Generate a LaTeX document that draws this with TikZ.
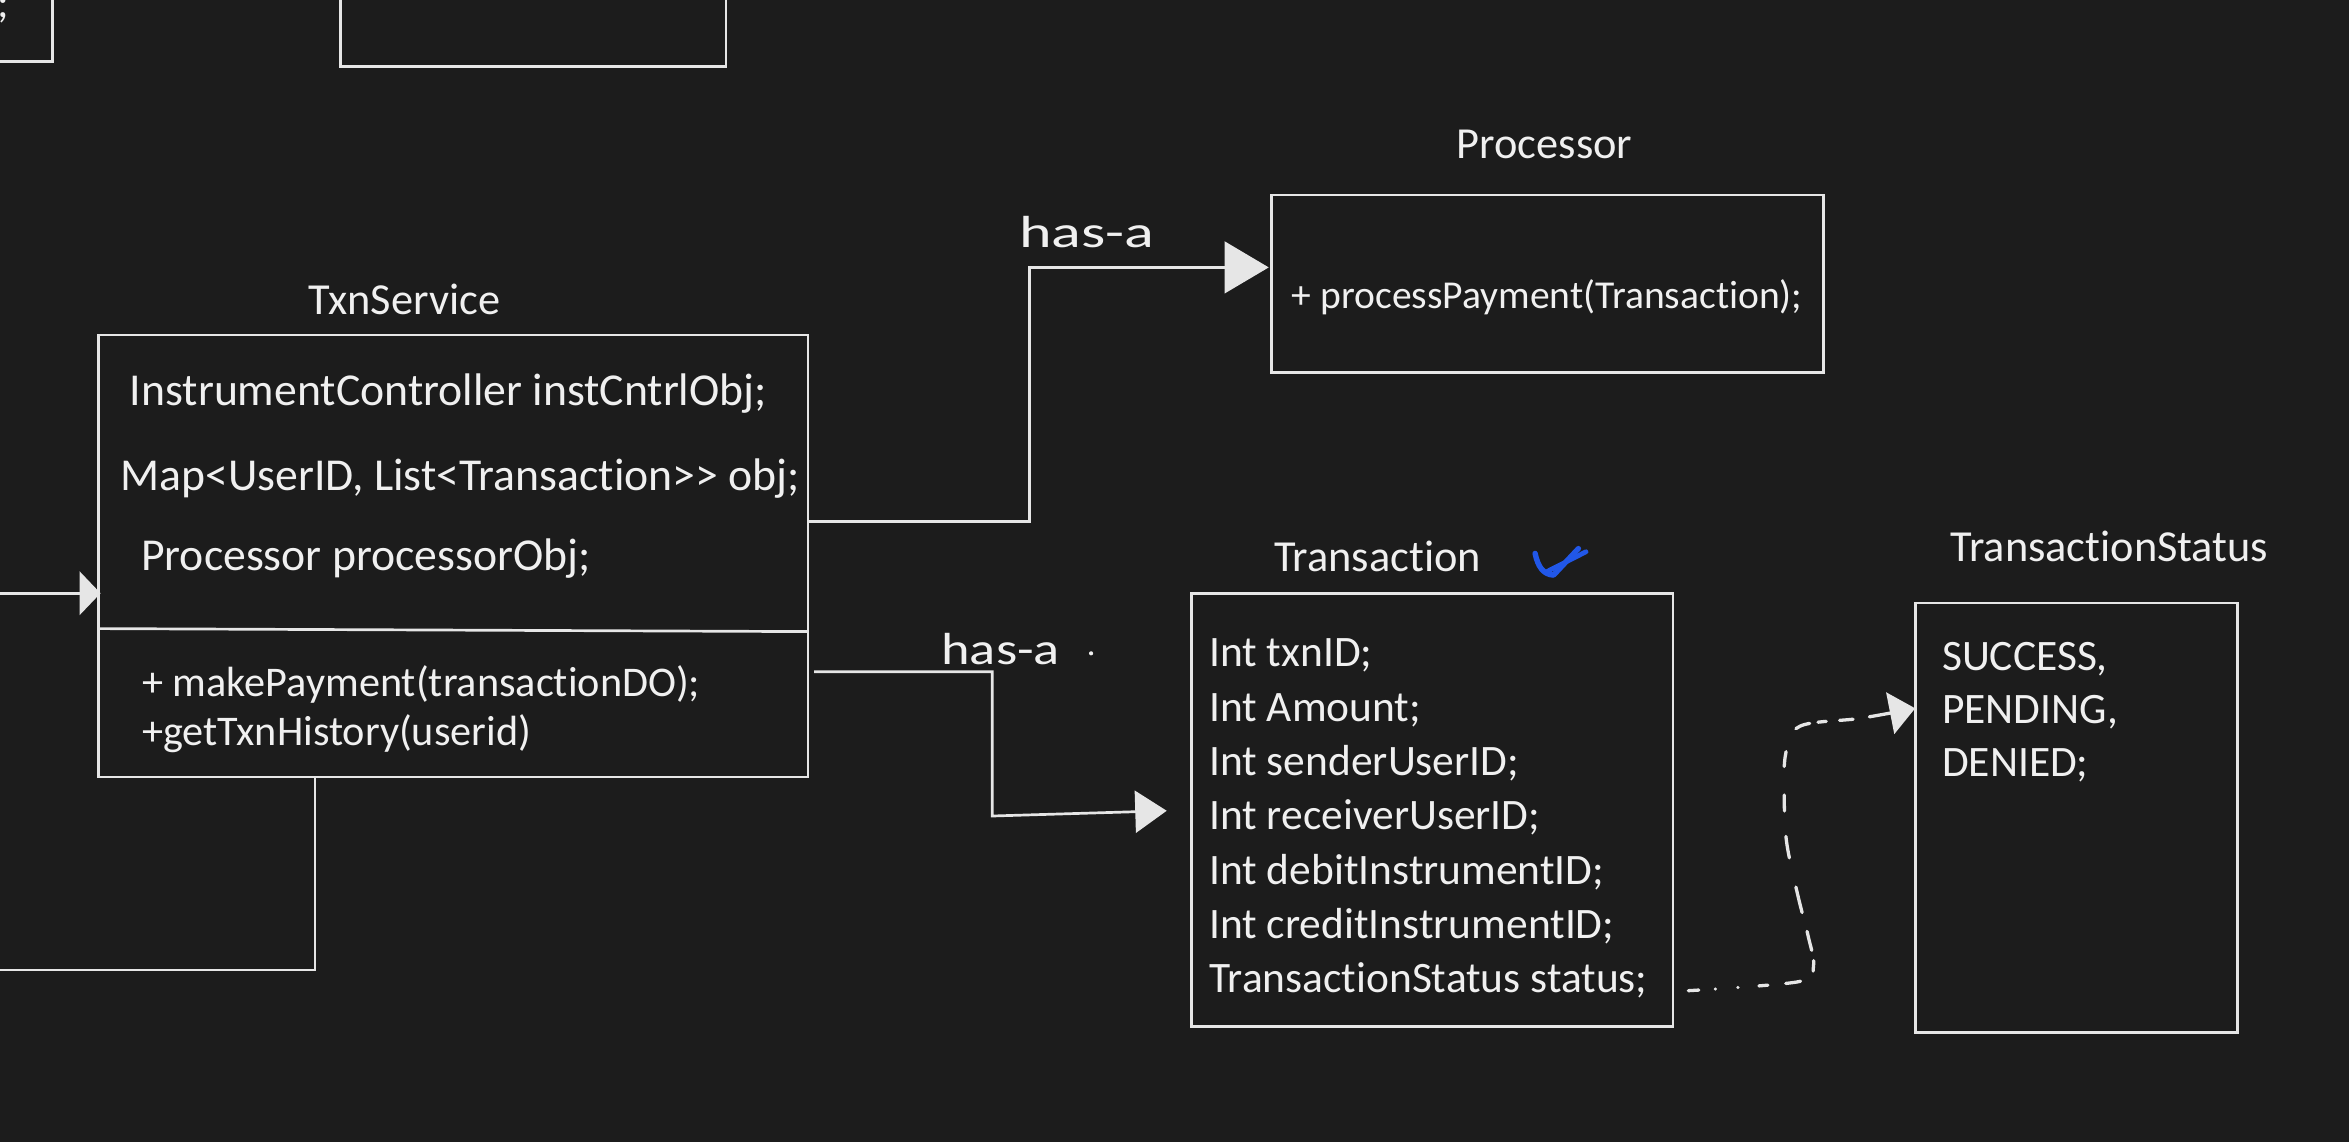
\documentclass[tikz,border=0pt]{standalone}
\usepackage{fontspec}
\setmainfont{Carlito}[Ligatures=NoCommon]
\usetikzlibrary{arrows.meta,calc}
\definecolor{bg}{HTML}{1C1C1C}
\definecolor{ink}{HTML}{E6E6E6}
\definecolor{txt}{HTML}{F0F0F0}
\definecolor{chk}{HTML}{2157E8}
\tikzset{
  umlbox/.style={draw=ink, line width=1.8pt, rectangle, inner sep=0pt, outer sep=0pt, anchor=north west},
  ttl/.style={text=txt, font=\fontsize{29.6}{36}\selectfont, inner sep=0pt, anchor=base},
  fld/.style={text=txt, font=\fontsize{30.5}{36}\selectfont, inner sep=0pt, anchor=base west},
  mth/.style={text=txt, font=\fontsize{28.2}{34}\selectfont, inner sep=0pt, anchor=base west},
  attr/.style={text=txt, font=\fontsize{29}{36}\selectfont, inner sep=0pt, anchor=base west},
  conn/.style={draw=ink, line width=1.8pt},
  hand/.style={text=txt, font=\fontsize{30}{30}\selectfont, inner sep=0pt, anchor=center},
}
\begin{document}
\begin{tikzpicture}[x=1pt,y=-1pt]
\fill[bg] (0,0) rectangle (1568,762);
\useasboundingbox (0,0) rectangle (1568,762);

% partial boxes at the top
\node[umlbox, minimum width=50pt, minimum height=55pt] (topA) at (-15,-14) {};
\node[attr, anchor=base east] (semi) at (6.5,11.5) {;};
\node[umlbox, minimum width=257.5pt, minimum height=60pt] (topB) at (227.2,-15.5) {};

% TxnService
\node[umlbox, minimum width=473.8pt, minimum height=295pt] (svc) at (65.6,223.6) {};
\node[ttl] (svcT) at (270,210) {TxnService};
\draw[conn] ($(svc.north west)+(0,196)$) -- ($(svc.north east)+(0,198)$);
\node[fld] (f1) at (86.5,270.5) {InstrumentController instCntrlObj;};
\node[fld] (f2) at (80.3,327.5) {Map<UserID, List<Transaction>\kern0pt> obj;};
\node[fld] (f3) at (94,380.5) {Processor processorObj;};
\node[mth] (m1) at (94.8,465) {+ makePayment(transactionDO);};
\node[mth] (m2) at (94.8,497.3) {+getTxnHistory(userid)};

% Processor
\node[umlbox, minimum width=368.6pt, minimum height=118.6pt] (proc) at (848.8,130.2) {};
\node[ttl] (procT) at (1031,106) {Processor};
\node[attr, font=\fontsize{26.4}{32}\selectfont] (p1) at (862.2,205.8) {+ processPayment(Transaction);};

% Transaction
\node[umlbox, minimum width=321.3pt, minimum height=289pt] (tx) at (795.4,396) {};
\node[ttl] (txT) at (919.5,381.6) {Transaction};
\foreach \t [count=\i from 0] in {Int txnID;,Int Amount;,Int senderUserID;,Int receiverUserID;,Int debitInstrumentID;,Int creditInstrumentID;,TransactionStatus status;}
  \node[attr] (txa\i) at (807,445+36.3*\i) {\t};

% TransactionStatus
\node[umlbox, minimum width=215.1pt, minimum height=286.5pt] (ts) at (1278.4,402.5) {};
\node[ttl] (tsT) at (1408,375) {TransactionStatus};
\node[attr] (s1) at (1296.2,447.3) {SUCCESS,};
\node[attr] (s2) at (1296.2,482.9) {PENDING,};
\node[attr] (s3) at (1296.2,518.5) {DENIED;};

% blue check mark
\draw[chk, line width=3.6pt, line cap=round, line join=round] (1024.7,369.4) .. controls (1026.5,378) and (1030,383.5) .. (1037,383.9) -- (1053.6,366.2);
\draw[chk, line width=3.2pt, line cap=round] (1032.5,381.6) -- (1058.7,368.3);

% TxnService -> Processor
\coordinate (a1) at ($(svc.north east)+(0,124.5)$);
\coordinate (a2) at ($(proc.west)+(-1.9,-11)$);
\draw[conn, -{Triangle[length=29.5pt,width=34.5pt]}] (a1) -- ($(a1)+(147.6,0)$) |- (a2);
\node[hand, xscale=1.38] (has1) at (725.5,155) {has-a};

% TxnService -> Transaction
\coordinate (b1) at ($(svc.north east)+(4,224.8)$);
\coordinate (b2) at ($(tx.west)+(-16.6,0.7)$);
\draw[conn, -{Triangle[length=21pt,width=28pt]}] (b1) -- ($(b1)+(119,0)$) -- ($(b1)+(119,96.3)$) -- (b2);
\node[hand, xscale=1.21] (has2) at (668,433) {has-a};
\fill[txt] (728.3,436.1) circle (1.4pt);

% incoming from the left
\coordinate (c1) at (-5,396);
\draw[conn, -{Triangle[length=14pt,width=29pt]}] (c1) -- ($(svc.north west)+(1.5,172.4)$);

% outgoing at the bottom
\coordinate (d1) at (-5,647.5);
\draw[conn] ($(svc.south west)+(144.7,0)$) |- (d1);

% dashed: Transaction.status -> TransactionStatus
\coordinate (e1) at ($(tx.south east)+(10.3,-23.7)$);
\coordinate (e2) at ($(ts.north west)+(0,70.3)$);
\draw[conn, line width=2.2pt, line cap=round,
  dash pattern=on 7pt off 11pt on 0.1pt off 15pt on 0.1pt off 14pt on 6pt off 12pt on 10pt off 12pt on 7pt off 7pt on 13pt off 13pt on 17.5pt off 20pt on 14.5pt off 17pt on 10.7pt off 19pt on 10pt off 17pt on 10pt off 5.6pt on 5.5pt off 9pt on 9pt off 11pt on 30pt off 30pt,
  -{Triangle[length=17pt,width=28pt]}]
  plot[smooth, tension=0.55] coordinates {(e1) (1200.5,655.3) (1210.5,645) (1207,625) (1200.3,598.6) (1192.7,563) (1191,533) (1192,503) (1201.6,484.7) (1241.7,479.5) (e2)};
\end{tikzpicture}
\end{document}
